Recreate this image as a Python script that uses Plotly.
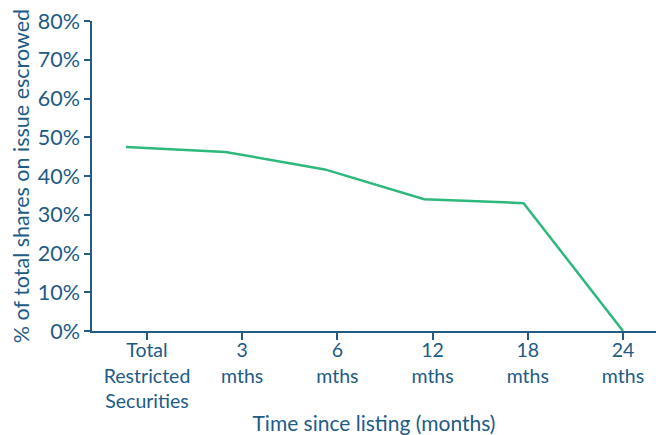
import plotly.graph_objects as go

# Escrowed share of total shares on issue, by time since listing
categories = [
    "Total<br>Restricted<br>Securities",
    "3<br>mths",
    "6<br>mths",
    "12<br>mths",
    "18<br>mths",
    "24<br>mths",
]
escrowed_pct = [47.5, 46.2, 41.7, 34.0, 33.0, 0.0]
y_ticks = [0, 10, 20, 30, 40, 50, 60, 70, 80]
y_tick_text = [f"{v}%" for v in y_ticks]

navy = "#215b86"
green = "#2db87c"
font_family = "Lato, 'Open Sans', sans-serif"

fig = go.Figure()
# transparent carrier trace so the category axis with its ticks is drawn
fig.add_trace(
    go.Scatter(
        x=categories,
        y=escrowed_pct,
        mode="markers",
        marker=dict(opacity=0),
        xaxis="x",
        yaxis="y",
        showlegend=False,
        hoverinfo="skip",
    )
)
fig.add_trace(
    go.Scatter(
        x=categories,
        y=escrowed_pct,
        mode="lines",
        line=dict(color=green, width=2.5),
        xaxis="x2",
        yaxis="y",
        showlegend=False,
        hoverinfo="skip",
    )
)

fig.update_layout(
    width=656,
    height=435,
    margin=dict(l=92, r=0, t=21, b=104),
    paper_bgcolor="white",
    plot_bgcolor="white",
    font=dict(family=font_family, color=navy, size=19),
    xaxis=dict(
        type="category",
        categoryarray=categories,
        range=[-0.578, 5.347],
        automargin=False,
        showline=True,
        linecolor=navy,
        linewidth=1.6,
        ticks="outside",
        ticklen=7,
        tickwidth=1.6,
        tickcolor=navy,
        ticklabelstandoff=-6,
        showgrid=False,
        zeroline=False,
        tickfont=dict(size=19.5, color=navy),
        title=dict(
            text="Time since listing (months)",
            font=dict(size=21, color=navy),
            standoff=16,
        ),
    ),
    xaxis2=dict(
        type="category",
        categoryarray=categories,
        range=[-0.342, 5.332],
        overlaying="x",
        visible=False,
    ),
    yaxis=dict(
        range=[0, 80],
        tickvals=y_ticks,
        ticktext=y_tick_text,
        automargin=False,
        showline=True,
        linecolor=navy,
        linewidth=1.6,
        ticks="outside",
        ticklen=6,
        tickwidth=1.6,
        tickcolor=navy,
        showgrid=False,
        zeroline=False,
        tickfont=dict(size=21.5, color=navy),
        title=dict(
            text="% of total shares on issue escrowed",
            font=dict(size=21.5, color=navy),
            standoff=2,
        ),
    ),
)

fig.write_html("out.html")
